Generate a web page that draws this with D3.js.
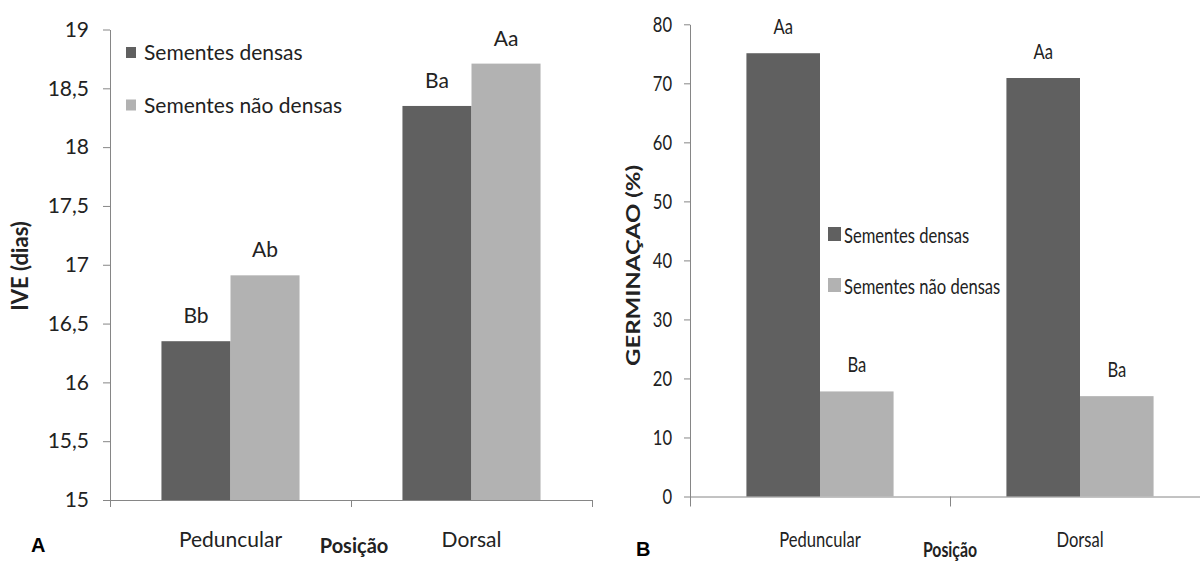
<!DOCTYPE html>
<html>
<head>
<meta charset="utf-8">
<script src="https://cdn.jsdelivr.net/npm/d3@7"></script>
<style>
  body { margin: 0; background: #fff; }
  svg { display: block; }
  text { font-family: Lato, "Open Sans", sans-serif; fill: #222; }
</style>
</head>
<body>
<svg id="chart" width="1200" height="563"></svg>
<script>
// ===== data =====
const categories = ['Peduncular', 'Dorsal'];
const seriesNames = ['Sementes densas', 'Sementes não densas'];

const iveTicks = [15, 15.5, 16, 16.5, 17, 17.5, 18, 18.5, 19];
const iveDensas = [16.35, 18.35];
const iveNaoDensas = [16.91, 18.71];
const iveLetrasDensas = ['Bb', 'Ba'];
const iveLetrasNaoDensas = ['Ab', 'Aa'];

const germTicks = [0, 10, 20, 30, 40, 50, 60, 70, 80];
const germDensas = [75.1, 70.9];
const germNaoDensas = [17.8, 17.0];
const germLetrasDensas = ['Aa', 'Aa'];
const germLetrasNaoDensas = ['Ba', 'Ba'];

const colors = ['#606060', '#b2b2b2'];
const axisColor = '#868686';

const svg = d3.select('#chart');

function drawPanel(p) {
  const g = svg.append('g');
  const sx = p.squeeze; // the right panel is horizontally squashed in the original

  const x0 = d3.scaleBand()
    .domain(categories)
    .range(p.xRange)
    .paddingInner(p.padInner)
    .paddingOuter(p.padInner / 2);

  const x1 = d3.scaleBand()
    .domain(seriesNames)
    .range([0, x0.bandwidth()]);

  const y = d3.scaleLinear()
    .domain(p.yDomain)
    .range(p.yRange);

  const rows = categories.map((c, i) => ({
    cat: c,
    vals: seriesNames.map((s, j) => ({ s, v: p.values[j][i], lab: p.letters[j][i] }))
  }));

  // y axis
  const yAxis = g.append('g')
    .attr('transform', `translate(${p.xRange[0]},0)`)
    .call(d3.axisLeft(y)
      .tickValues(p.ticks)
      .tickSize(p.tickLen)
      .tickSizeOuter(0)
      .tickPadding(p.tickPad)
      .tickFormat(d => String(d).replace('.', ',')));
  yAxis.selectAll('.domain, .tick line').attr('stroke', axisColor);
  yAxis.selectAll('text')
    .attr('font-family', null)
    .style('font-size', p.fontSize + 'px')
    .attr('x', -(p.tickLen + p.tickPad) / sx)
    .attr('transform', `scale(${sx},1)`);

  // x axis: ticks at the band edges
  const edges = d3.scaleLinear().domain([0, categories.length]).range(p.xRange);
  const xAxis = g.append('g')
    .attr('transform', `translate(0,${p.yRange[0]})`)
    .call(d3.axisBottom(edges)
      .tickValues(d3.range(categories.length + 1))
      .tickSize(p.xTickLen)
      .tickSizeOuter(0)
      .tickFormat(''));
  xAxis.selectAll('.domain, .tick line').attr('stroke', axisColor);

  // bars
  const grp = g.selectAll('.grp')
    .data(rows)
    .enter().append('g')
    .attr('transform', d => `translate(${x0(d.cat)},0)`);

  grp.selectAll('rect')
    .data(d => d.vals)
    .enter().append('rect')
    .attr('x', d => x1(d.s))
    .attr('width', x1.bandwidth())
    .attr('y', d => y(d.v))
    .attr('height', d => y(p.yDomain[0]) - y(d.v))
    .attr('fill', (d, i) => colors[i]);

  grp.selectAll('text')
    .data(d => d.vals)
    .enter().append('text')
    .attr('text-anchor', 'middle')
    .style('font-size', p.fontSize + 'px')
    .attr('transform', d => `translate(${x1(d.s) + x1.bandwidth() / 2},${y(d.v) - p.labelGap}) scale(${sx},1)`)
    .text(d => d.lab);

  // category labels
  g.selectAll('.cat')
    .data(categories)
    .enter().append('text')
    .attr('text-anchor', 'middle')
    .style('font-size', p.fontSize + 'px')
    .attr('transform', d => `translate(${x0(d) + x0.bandwidth() / 2},${p.catY}) scale(${sx},1)`)
    .text(d => d);

  // x title
  g.append('text')
    .attr('text-anchor', 'middle')
    .style('font-size', p.titleSize + 'px')
    .style('font-weight', 'bold')
    .attr('transform', `translate(${(p.xRange[0] + p.xRange[1]) / 2 + p.xTitleDx},${p.xTitleY}) scale(${sx},1)`)
    .text('Posição');

  // y title
  g.append('text')
    .attr('text-anchor', 'middle')
    .style('font-size', p.yTitleSize + 'px')
    .style('font-weight', 'bold')
    .attr('transform', `translate(${p.yTitlePos[0]},${p.yTitlePos[1]}) scale(${sx},1) rotate(-90)`)
    .text(p.yTitle);

  // legend
  const leg = g.selectAll('.leg')
    .data(seriesNames)
    .enter().append('g')
    .attr('transform', (d, i) => `translate(${p.legend.x},${p.legend.y + i * p.legend.step})`);
  leg.append('rect')
    .attr('width', p.legend.w)
    .attr('height', p.legend.h)
    .attr('fill', (d, i) => colors[i]);
  leg.append('text')
    .style('font-size', p.fontSize + 'px')
    .attr('transform', `translate(${p.legend.tx},${p.legend.h + 2}) scale(${sx},1)`)
    .text(d => d);

  // panel letter
  svg.append('text')
    .attr('x', p.letter.x)
    .attr('y', p.letter.y)
    .style('font-family', '"Liberation Sans", Arial, sans-serif')
    .style('font-size', '20px')
    .style('font-weight', 'bold')
    .style('fill', '#000')
    .text(p.letter.t);
}

drawPanel({
  squeeze: 1,
  xRange: [110, 592],
  padInner: 0.427,
  yDomain: [15, 19],
  yRange: [500, 29.5],
  ticks: iveTicks,
  tickLen: 7,
  tickPad: 14,
  xTickLen: 7,
  values: [iveDensas, iveNaoDensas],
  letters: [iveLetrasDensas, iveLetrasNaoDensas],
  fontSize: 21,
  titleSize: 20,
  yTitleSize: 22,
  labelGap: 18,
  catY: 547,
  xTitleDx: 3,
  xTitleY: 553,
  yTitle: 'IVE (dias)',
  yTitlePos: [28, 266],
  legend: { x: 126, y: 47, step: 52.5, w: 10, h: 11, tx: 18 },
  letter: { x: 31, y: 552, t: 'A' }
});

drawPanel({
  squeeze: 0.79,
  xRange: [690, 1210],
  padInner: 0.434,
  yDomain: [0, 80],
  yRange: [496.5, 24.3],
  ticks: germTicks,
  tickLen: 6,
  tickPad: 12,
  xTickLen: 10,
  values: [germDensas, germNaoDensas],
  letters: [germLetrasDensas, germLetrasNaoDensas],
  fontSize: 21,
  titleSize: 20,
  yTitleSize: 24,
  labelGap: 19.5,
  catY: 546.5,
  xTitleDx: 0,
  xTitleY: 557,
  yTitle: 'GERMINAÇAO (%)',
  yTitlePos: [640, 265.5],
  legend: { x: 828, y: 227, step: 51, w: 13, h: 14, tx: 16 },
  letter: { x: 636, y: 556, t: 'B' }
});
</script>
</body>
</html>
